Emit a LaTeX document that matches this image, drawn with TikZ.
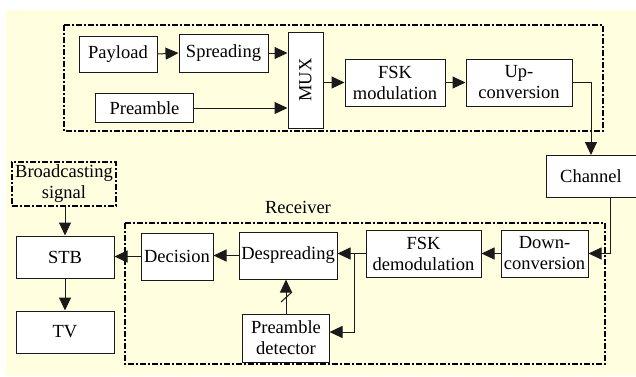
\documentclass[tikz,border=0pt]{standalone}
\usepackage{fontspec}
\setmainfont{Liberation Serif}
\usetikzlibrary{arrows.meta}
\definecolor{bgyellow}{HTML}{FFFFE0}
\definecolor{linec}{HTML}{1A1A1A}
\begin{document}
\begin{tikzpicture}[x=1pt,y=-1pt,
  box/.style={draw=linec, line width=1pt, fill=white, inner sep=0pt, align=center,
    font=\fontsize{18.5}{21}\selectfont},
  dbox/.style={draw=black, line width=1.8pt, dash pattern=on 6pt off 2pt on 2pt off 2pt},
  arr/.style={draw=linec, line width=1pt, -{Triangle[length=13pt,width=12pt]}},
  con/.style={draw=linec, line width=1pt},
  lbl/.style={inner sep=0pt, font=\fontsize{18.5}{21}\selectfont}]
\useasboundingbox (0,0) rectangle (636,376);
\fill[bgyellow] (6,10) rectangle (636,376);
% dashed groups
\draw[dbox] (64,25) rectangle (603,131);
\draw[dbox] (125,223) rectangle (605,364);
% transmitter
\node[box, minimum width=78, minimum height=36] (pay) at (118,54) {Payload};
\node[box, minimum width=89, minimum height=38] (spr) at (223.5,53) {Spreading};
\node[box, minimum width=98, minimum height=29] (pre) at (144.5,108) {Preamble};
\node[box, minimum width=35, minimum height=96] (mux) at (305.5,80) {\rotatebox{90}{MUX}};
\node[box, minimum width=100, minimum height=47] (fskm) at (395,82.5) {FSK\\modulation};
\node[box, minimum width=106, minimum height=47] (up) at (519,82.5) {Up-\\conversion};
\node[box, minimum width=90, minimum height=42] (chan) at (591,176.5) {Channel};
% receiver
\node[lbl] (rlab) at (298,207) {Receiver};
\node[box, minimum width=87, minimum height=47] (down) at (544.5,253.5) {Down-\\conversion};
\node[box, minimum width=115, minimum height=47] (fskd) at (423.5,253.5) {FSK\\demodulation};
\node[box, minimum width=98, minimum height=47] (desp) at (288,255.5) {Despreading};
\node[box, minimum width=87, minimum height=48] (pdet) at (286,338) {Preamble\\detector};
\node[box, minimum width=72, minimum height=47] (dec) at (177,256.5) {Decision};
\node[box, minimum width=98, minimum height=42] (stb) at (65,257) {STB};
\node[box, minimum width=98, minimum height=42] (tv) at (65,332) {TV};
\node[box, draw=black, line width=1.8pt, dash pattern=on 6pt off 2pt on 2pt off 2pt,
  fill=none, minimum width=104, minimum height=44] (bs) at (64,184) {Broadcasting\\signal};
% connectors
\draw[arr] (pay.east) -- (spr.west);
\draw[arr] (spr.east) -- (spr.east -| mux.west);
\draw[arr] (pre.east) -- (pre.east -| mux.west);
\draw[arr] (mux.east |- fskm.west) -- (fskm.west);
\draw[arr] (fskm.east) -- (up.west);
\draw[arr] (up.east) -| (chan.north);
\coordinate (cd) at (610,254);
\draw[arr] (chan.south -| cd) |- (down.east);
\draw[arr] (down.west) -- (fskd.east);
\draw[arr] (fskd.west) -- (fskd.west -| desp.east);
\coordinate (br) at (354,253.5);
\coordinate (pdin) at (329.5,332);
\draw[arr] (br) |- (pdin);
\draw[arr] (pdet.north) -- (pdet.north |- desp.south);
\coordinate (s1) at (281,302);
\coordinate (s2) at (292,292);
\draw[con] (s1) -- (s2);
\draw[arr] (desp.west) -- (desp.west -| dec.east);
\draw[arr] (dec.west) -- (dec.west -| stb.east);
\draw[arr] (bs.south -| stb.north) -- (stb.north);
\draw[arr] (stb.south) -- (tv.north);
\end{tikzpicture}
\end{document}
